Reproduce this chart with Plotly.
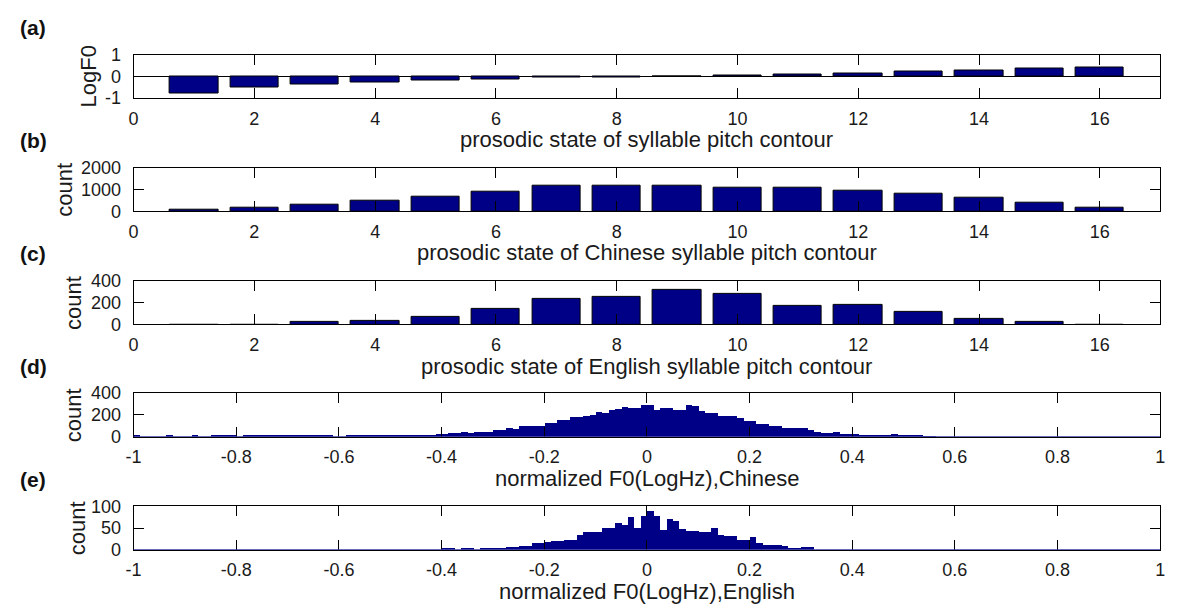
import plotly.graph_objects as go

W, H = 1180, 614
FONT = "Liberation Sans"
NAVY = "rgb(0,0,135)"
BASE_BLUE = "rgb(60,60,170)"

# ---- data -----------------------------------------------------------------
states = list(range(1, 17))
logf0_state = [-0.78, -0.50, -0.37, -0.27, -0.20, -0.15, -0.06, -0.05,
               0.0, 0.05, 0.06, 0.15, 0.22, 0.27, 0.34, 0.40]
count_zh_state = [76, 152, 288, 485, 667, 879, 1152, 1170,
                  1170, 1067, 1067, 948, 815, 607, 415, 148]
count_en_state = [0, 0, 21, 36, 69, 144, 234, 250,
                  316, 277, 168, 180, 114, 48, 24, 0]

f0_bin_start = -1.0
f0_bin_width = 0.0125

# histogram of normalized F0, Chinese (160 bins over [-1, 1])
count_zh_f0 = (
    [10, 0, 0, 0, 0, 8, 0, 0, 0, 8, 0, 0, 6, 6, 6, 6, 0, 6, 6, 6,
     6, 6, 6, 6, 6, 6, 6, 6, 6, 6, 6, 0, 0, 6, 6, 6, 6, 6, 8, 8,
     8, 8, 8, 10, 10, 12, 14]
    + [20, 24, 33, 30, 38, 36, 40, 38, 45, 62, 60, 74, 72, 98, 95, 100, 98,
       127, 125, 148, 150, 181, 178, 193, 195, 222, 220, 246, 250, 276, 260,
       262, 290, 288, 246, 260, 262, 246, 244, 290, 285, 231, 216, 214, 187,
       187, 185, 172, 142, 140, 113, 112, 98, 97, 83, 82, 77, 76, 62, 44, 33,
       33, 38, 21, 20, 25, 15, 15, 14, 15, 13, 20, 9, 8, 6, 5, 4, 3]
    + [0] * 34
)

# histogram of normalized F0, English (160 bins over [-1, 1])
count_en_f0 = (
    [0] * 48
    + [3, 3, 0, 3, 3, 0, 3, 3,
       4, 4, 6, 6, 9, 9, 14, 14,
       18, 19, 20, 22, 22, 34, 40, 41,
       41, 49, 49, 61, 57, 74, 49, 77,
       88, 77, 45, 71, 65, 47, 43, 43,
       40, 40, 49, 34, 31, 31, 22, 22,
       28, 14, 10, 10, 10, 8, 4, 4,
       5, 5]
    + [0] * 54
)

state_ticks = [0, 2, 4, 6, 8, 10, 12, 14, 16]
f0_ticks = [-1, -0.8, -0.6, -0.4, -0.2, 0, 0.2, 0.4, 0.6, 0.8, 1]
f0_tick_text = ["-1", "-0.8", "-0.6", "-0.4", "-0.2", "0", "0.2", "0.4", "0.6", "0.8", "1"]

y_ticks = [
    ([-1, 0, 1], ["-1", "0", "1"], [-1, 1]),
    ([0, 1000, 2000], ["0", "1000", "2000"], [0, 2000]),
    ([0, 200, 400], ["0", "200", "400"], [0, 400]),
    ([0, 200, 400], ["0", "200", "400"], [0, 400]),
    ([0, 50, 100], ["0", "50", "100"], [0, 100]),
]

panel_tags = ["(a)", "(b)", "(c)", "(d)", "(e)"]
y_titles = ["LogF0", "count", "count", "count", "count"]
x_titles = [
    "prosodic state of syllable pitch contour",
    "prosodic state of Chinese syllable pitch contour",
    "prosodic state of English syllable pitch contour",
    "normalized F0(LogHz),Chinese",
    "normalized F0(LogHz),English",
]

# ---- layout geometry (pixels from the top-left corner) ---------------------
box_left, box_right = 127, 1165
boxes = [(46, 91), (163, 208), (280, 325), (396, 441), (513, 558)]
ytitle_x = [81, 57, 66, 67, 70]


def px_x(v):
    return v / W


def px_y(v):
    return 1 - v / H


fig = go.Figure()

f0_centers_zh = [f0_bin_start + f0_bin_width * (i + 0.5) for i in range(len(count_zh_f0))]
f0_centers_en = [f0_bin_start + f0_bin_width * (i + 0.5) for i in range(len(count_en_f0))]

bar_style = dict(color=NAVY, line=dict(color="black", width=1))
fig.add_trace(go.Bar(x=states, y=logf0_state, width=0.8, marker=bar_style,
                     xaxis="x", yaxis="y"))
fig.add_trace(go.Bar(x=states, y=count_zh_state, width=0.8, marker=bar_style,
                     xaxis="x2", yaxis="y2"))
fig.add_trace(go.Bar(x=states, y=count_en_state, width=0.8, marker=bar_style,
                     xaxis="x3", yaxis="y3"))
fig.add_trace(go.Bar(x=f0_centers_zh, y=count_zh_f0, width=f0_bin_width,
                     marker=dict(color=NAVY, line=dict(width=0)),
                     xaxis="x4", yaxis="y4"))
fig.add_trace(go.Bar(x=f0_centers_en, y=count_en_f0, width=f0_bin_width,
                     marker=dict(color=NAVY, line=dict(width=0)),
                     xaxis="x5", yaxis="y5"))

tick_font = dict(family=FONT, size=18, color="#1a1a1a")
label_font = dict(family=FONT, size=22, color="#1a1a1a")
common = dict(showline=True, linecolor="black", linewidth=1, mirror="allticks",
              ticks="inside", ticklen=10, tickcolor="black", tickwidth=1,
              showgrid=False, tickfont=tick_font, fixedrange=True)

layout = dict(
    width=W, height=H, margin=dict(l=0, r=0, t=0, b=0),
    paper_bgcolor="white", plot_bgcolor="white", showlegend=False,
    bargap=0, barmode="overlay",
)

annotations = []
shapes = []
for k in range(5):
    n = "" if k == 0 else str(k + 1)
    top, bottom = boxes[k]
    xa = dict(common, domain=[px_x(box_left), px_x(box_right)],
              anchor="y" + n, zeroline=False, ticklabelstandoff=4)
    if k < 3:
        xa.update(range=[0, 17], tickvals=state_ticks,
                  ticktext=[str(t) for t in state_ticks])
    else:
        xa.update(range=[-1, 1], tickvals=f0_ticks, ticktext=f0_tick_text)
    tv, tt, rng = y_ticks[k]
    ya = dict(common, domain=[px_y(bottom), px_y(top)], anchor="x" + n,
              range=rng, tickvals=tv, ticktext=tt, ticklabelstandoff=8,
              zeroline=(k == 0), zerolinecolor="black", zerolinewidth=1)
    layout["xaxis" + n] = xa
    layout["yaxis" + n] = ya

    annotations.append(dict(text="<b>%s</b>" % panel_tags[k], x=px_x(10), y=px_y(top - 28),
                            xref="paper", yref="paper", xanchor="left", yanchor="middle",
                            showarrow=False, font=dict(family=FONT, size=21, color="#111111")))
    annotations.append(dict(text=x_titles[k], x=px_x((box_left + box_right) / 2),
                            y=px_y(bottom + 43), xref="paper", yref="paper",
                            xanchor="center", yanchor="middle", showarrow=False,
                            font=label_font))
    annotations.append(dict(text=y_titles[k], x=px_x(ytitle_x[k]), y=px_y((top + bottom) / 2),
                            xref="paper", yref="paper", xanchor="center", yanchor="middle",
                            textangle=-90, showarrow=False, font=label_font))
    if k >= 3:
        # blue baseline drawn by the histogram bars along y = 0
        shapes.append(dict(type="line", xref="x%s domain" % n, yref="y" + n,
                           x0=0, x1=1, y0=0, y1=0, layer="above",
                           line=dict(color=BASE_BLUE, width=1.5)))

layout["annotations"] = annotations
layout["shapes"] = shapes
fig.update_layout(**layout)

fig.write_html("out.html")
